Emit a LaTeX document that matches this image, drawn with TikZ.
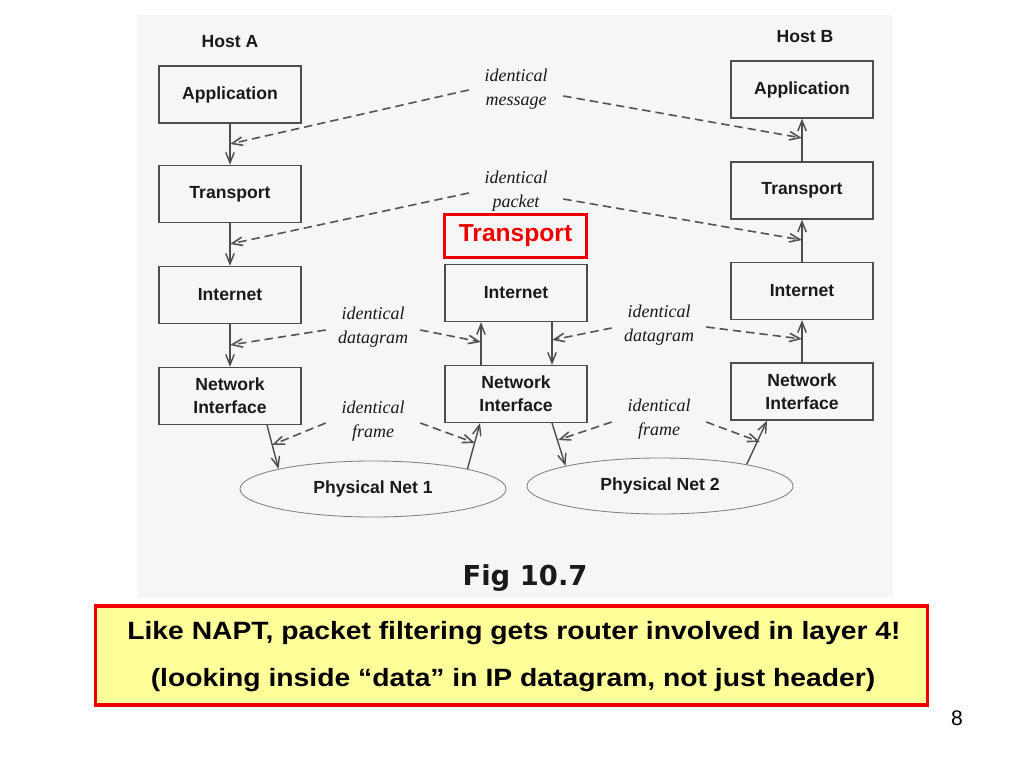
\documentclass[tikz,border=0pt]{standalone}
\usepackage{fontspec}
\usetikzlibrary{arrows.meta,shapes.geometric,calc}
\newfontfamily\hvfont{Liberation Sans}
\newfontfamily\tmfont{Liberation Serif}
\newfontfamily\dvfont{DejaVu Sans}
\newfontfamily\widefont[FakeStretch=1.13]{Liberation Sans}
\definecolor{linegray}{HTML}{4D4D4D}
\definecolor{dashgray}{HTML}{555555}
\definecolor{scan}{HTML}{F6F6F6}
\definecolor{slidered}{HTML}{EE0000}
\definecolor{note}{HTML}{FFFF99}
\definecolor{ink}{HTML}{1A1A1A}
\begin{document}
\begin{tikzpicture}[x=0.025cm,y=-0.025cm,
  layer/.style={draw=linegray,line width=1.05pt,minimum width=3.55cm,minimum height=1.42cm,
    inner sep=0pt,font=\hvfont\bfseries\fontsize{12.5}{16.5}\selectfont,text=ink,align=center},
  net/.style={ellipse,draw=black!50,line width=0.6pt,minimum width=6.65cm,minimum height=1.4cm,
    inner sep=0pt,font=\hvfont\bfseries\fontsize{12.5}{15}\selectfont,text=ink},
  lbl/.style={font=\tmfont\itshape\fontsize{12.8}{17}\selectfont,text=ink,align=center,
    text width=1.75cm,inner xsep=0.3cm,inner ysep=0pt},
  host/.style={font=\hvfont\bfseries\fontsize{12.5}{15}\selectfont,text=ink},
  arr/.style={draw=linegray,line width=1pt,-{Straight Barb[length=7.5pt,width=6pt]}},
  dsh/.style={arr,draw=dashgray,line width=1.15pt,dash pattern=on 6pt off 3.5pt},
  notetext/.style={font=\widefont\bfseries\fontsize{17.8}{22}\selectfont,text=black,anchor=base,inner sep=0pt}
]
\useasboundingbox (0,0) rectangle (1024,768);
\fill[white] (0,0) rectangle (1024,768);
\fill[scan] (137,15) rectangle (893,598);

% Host A
\node[host] (hostA) at (230,42) {Host A};
\node[layer] (appA) at (230,94.5) {Application};
\node[layer] (trA) at (230,194) {Transport};
\node[layer] (intA) at (230,295) {Internet};
\node[layer] (niA) at (230,396) {Network\\Interface};

% Router
\node[draw=slidered,line width=2.2pt,minimum width=3.55cm,minimum height=1.075cm,inner sep=0pt,
  font=\hvfont\bfseries\fontsize{17.5}{20}\selectfont,text=slidered] (trR) at (515.5,236) {Transport};
\node[layer] (intR) at (516,293) {Internet};
\node[layer] (niR) at (516,394) {Network\\Interface};

% Host B
\node[host] (hostB) at (805,37) {Host B};
\node[layer] (appB) at (802,89.5) {Application};
\node[layer] (trB) at (802,190.5) {Transport};
\node[layer] (intB) at (802,291) {Internet};
\node[layer] (niB) at (802,391.5) {Network\\Interface};

% Physical nets
\node[net] (net1) at (373,489) {Physical Net 1};
\node[net] (net2) at (660,486) {Physical Net 2};

% vertical arrows
\draw[arr] (appA) -- (trA);
\draw[arr] (trA) -- (intA);
\draw[arr] (intA) -- (niA);
\draw[arr] (trB) -- (appB);
\draw[arr] (intB) -- (trB);
\draw[arr] (niB) -- (intB);
\draw[arr] ($(niR.north)+(-35,0)$) -- ($(intR.south)+(-35,0)$);
\draw[arr] ($(intR.south)+(36,0)$) -- ($(niR.north)+(36,0)$);

% to/from physical nets
\draw[arr] ($(niA.south)+(37,0)$) -- (net1.168);
\draw[arr] (net1.12) -- ($(niR.south)+(-36,0)$);
\draw[arr] ($(niR.south)+(36,0)$) -- (net2.168);
\draw[arr] (net2.14) -- ($(niB.south)+(-35,0)$);

% labels
\node[lbl] (msg) at (516,89) {identical\\message};
\node[lbl] (pkt) at (516,191) {identical\\packet};
\node[lbl] (dgL) at (373,327) {identical\\datagram};
\node[lbl] (dgR) at (659,325) {identical\\datagram};
\node[lbl] (frL) at (373,421) {identical\\frame};
\node[lbl] (frR) at (659,419) {identical\\frame};

% dashed end points
\coordinate (mA) at (230,144);
\coordinate (mB) at (802,138);
\coordinate (pA) at (230,244);
\coordinate (pB) at (802,240);
\coordinate (dA) at (230,345);
\coordinate (dR1) at (481,342);
\coordinate (dR2) at (552,340);
\coordinate (dB) at (802,339);
\coordinate (fA) at (272,445);
\coordinate (fR1) at (475,443);
\coordinate (fR2) at (558,440);
\coordinate (fB) at (760,442);

\draw[dsh] ($(msg.west)+(0,1)$) -- (mA);
\draw[dsh] ($(msg.east)+(0,7)$) -- (mB);
\draw[dsh] ($(pkt.west)+(0,2)$) -- (pA);
\draw[dsh] ($(pkt.east)+(0,8)$) -- (pB);
\draw[dsh] ($(dgL.west)+(0,3)$) -- (dA);
\draw[dsh] ($(dgL.east)+(0,3)$) -- (dR1);
\draw[dsh] ($(dgR.west)+(0,3)$) -- (dR2);
\draw[dsh] ($(dgR.east)+(0,2)$) -- (dB);
\draw[dsh] ($(frL.west)+(0,2)$) -- (fA);
\draw[dsh] ($(frL.east)+(0,2)$) -- (fR1);
\draw[dsh] ($(frR.west)+(0,3)$) -- (fR2);
\draw[dsh] ($(frR.east)+(0,3)$) -- (fB);

% caption
\node[font=\dvfont\bfseries\fontsize{19.5}{22}\selectfont,text=ink,anchor=base,inner sep=0pt] (fig) at (525,585) {Fig 10.7};

% note box
\node[draw=slidered,line width=2.2pt,fill=note,minimum width=20.775cm,minimum height=2.475cm,inner sep=0pt] (note) at (511.5,655.5) {};
\node[notetext] (note1) at (514,639) {Like NAPT, packet filtering gets router involved in layer 4!};
\node[notetext] (note2) at (513,686) {(looking inside “data” in IP datagram, not just header)};

\node[font=\hvfont\fontsize{15}{18}\selectfont,text=black,inner sep=0pt] (page) at (957,718) {8};
\end{tikzpicture}
\end{document}
